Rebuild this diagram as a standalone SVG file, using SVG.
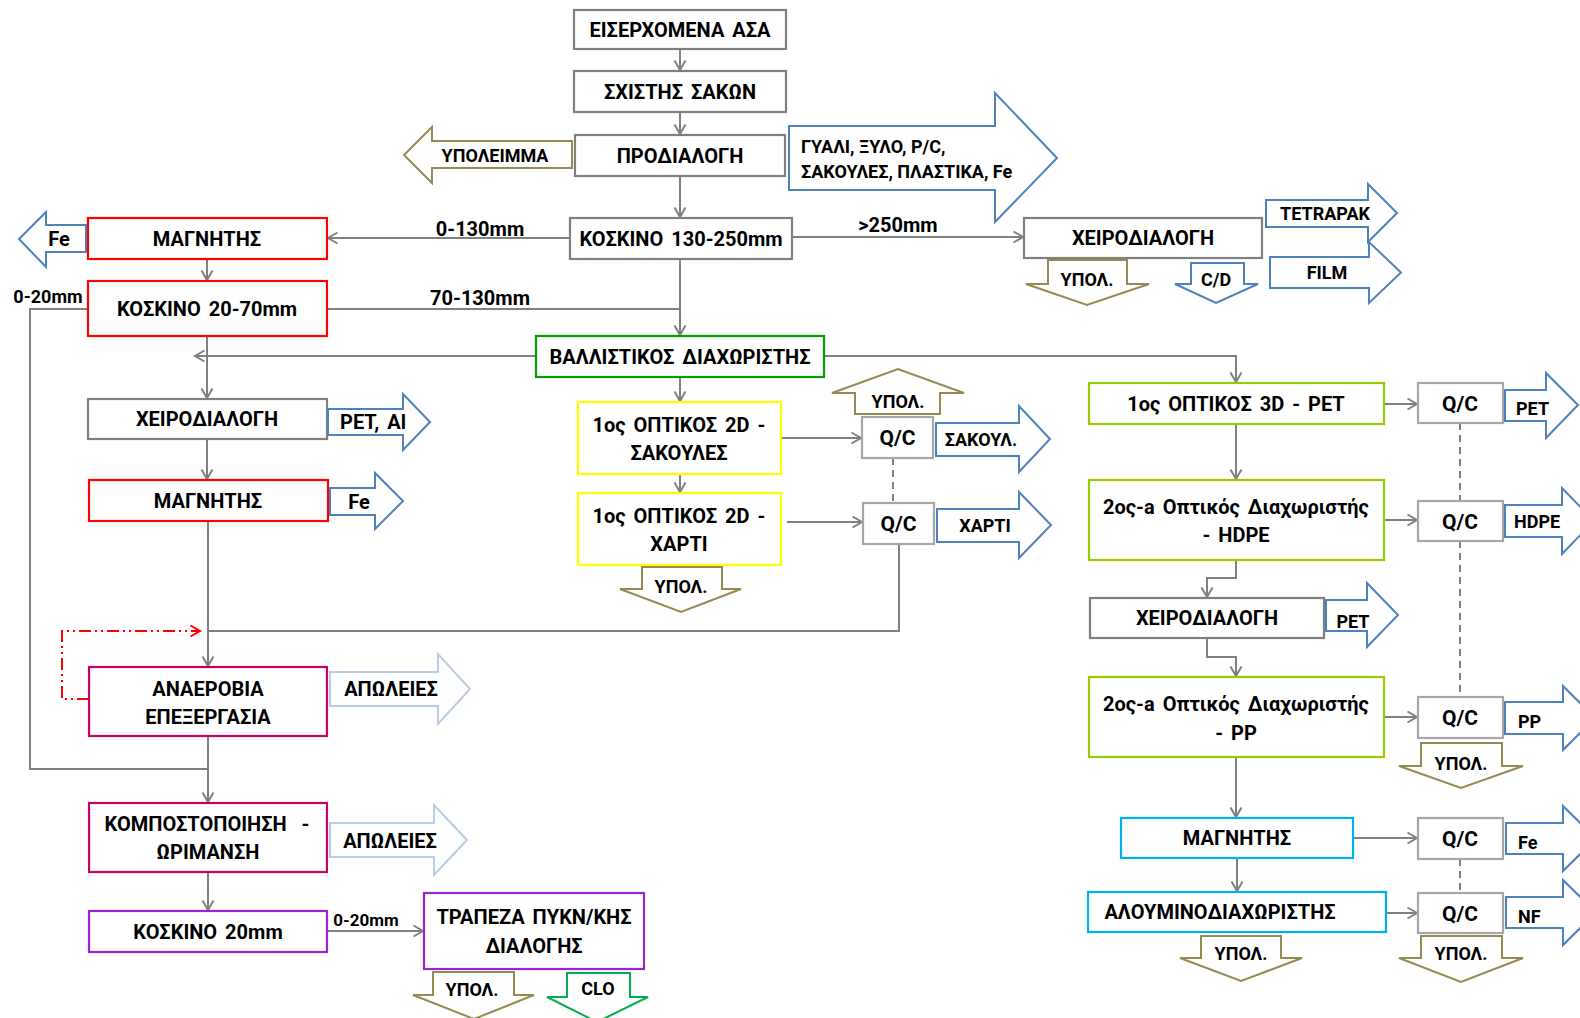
<svg xmlns="http://www.w3.org/2000/svg" width="1580" height="1018" viewBox="0 0 1580 1018">
<defs>
<style>
text{font-family:Roboto,"Noto Sans","DejaVu Sans",sans-serif;font-weight:700;fill:#000;text-anchor:middle;font-size:20px;word-spacing:3px}
.sm{font-size:18px;word-spacing:0}
.qt{font-size:21px}
.st{text-anchor:start}
.md{font-size:17px;word-spacing:0}
.box{fill:#fff;stroke-width:2.2}
.gray{stroke:#808080}
.qc{stroke:#a6a6a6}
.red{stroke:#ff0000}
.grn{stroke:#00a000}
.yel{stroke:#ffff00}
.yg{stroke:#99cc00}
.cy{stroke:#00b0f0}
.mag{stroke:#cc0066}
.pur{stroke:#9d22d6}
.ba{fill:#fff;stroke:#4f81bd;stroke-width:2}
.la{fill:#fff;stroke:#b9cde5;stroke-width:2}
.ol{fill:#fff;stroke:#948a54;stroke-width:2}
.ga{fill:#fff;stroke:#00b050;stroke-width:2}
.c{fill:none;stroke:#808080;stroke-width:2}
.ca{marker-end:url(#ah)}
.dash{stroke-dasharray:7 5}
.fb{fill:none;stroke:#ff0000;stroke-width:2;stroke-dasharray:12 4 2 4 2 4;marker-end:url(#ahr)}
</style>
<marker id="ah" viewBox="0 0 10 12" refX="9.5" refY="6" markerWidth="10" markerHeight="12" markerUnits="userSpaceOnUse" orient="auto" overflow="visible">
<path d="M0,0.5 L9.5,6 L0,11.5" fill="none" stroke="#808080" stroke-width="2"/>
</marker>
<marker id="ahr" viewBox="0 0 10 12" refX="9.5" refY="6" markerWidth="10" markerHeight="12" markerUnits="userSpaceOnUse" orient="auto" overflow="visible">
<path d="M0,0.5 L9.5,6 L0,11.5" fill="none" stroke="#ff0000" stroke-width="2"/>
</marker>
</defs>
<rect width="1580" height="1018" fill="#fff"/>

<!-- connectors -->
<g id="connectors">
<path class="c ca" d="M680,49V70"/>
<path class="c ca" d="M680,112V134"/>
<path class="c ca" d="M680,176V217"/>
<path class="c ca" d="M680,259V335"/>
<path class="c ca" d="M570,238H328"/>
<path class="c ca" d="M792,237H1023"/>
<path class="c ca" d="M207,259V280"/>
<path class="c" d="M327,309H680"/>
<path class="c" d="M88,309H30V769H208"/>
<path class="c ca" d="M536,356H195"/>
<path class="c ca" d="M824,356H1236V382"/>
<path class="c ca" d="M207,336V398"/>
<path class="c ca" d="M680,377V401"/>
<path class="c ca" d="M680,474V492"/>
<path class="c ca" d="M781,438H861"/>
<path class="c ca" d="M787,522H862"/>
<path class="c dash" d="M893,458V503"/>
<path class="c" d="M899,544V631H208"/>
<path class="c ca" d="M207,439V479"/>
<path class="c ca" d="M208,521V666"/>
<path class="fb" d="M89,699H62V631H200"/>
<path class="c ca" d="M208,736V802"/>
<path class="c ca" d="M208,872V910"/>
<path class="c ca" d="M327,931H423"/>
<path class="c ca" d="M1383,404H1417"/>
<path class="c ca" d="M1236,424V479"/>
<path class="c ca" d="M1384,520H1417"/>
<path class="c ca" d="M1236,560V578H1207V597"/>
<path class="c ca" d="M1207,638V657H1236V676"/>
<path class="c ca" d="M1384,717H1417"/>
<path class="c ca" d="M1236,757V817"/>
<path class="c ca" d="M1353,838H1417"/>
<path class="c ca" d="M1237,858V891"/>
<path class="c ca" d="M1386,913H1417"/>
<path class="c dash" d="M1460,423V501M1460,541V697M1460,859V893"/>
<text x="480" y="236">0-130mm</text>
<text x="898" y="232">&gt;250mm</text>
<text x="480" y="305">70-130mm</text>
<text class="sm" x="48" y="303">0-20mm</text>
<text class="md" x="366" y="926">0-20mm</text>
</g>

<!-- main line -->
<g id="incoming"><rect class="box gray" x="574" y="10" width="212" height="39"/><text x="680" y="37">ΕΙΣΕΡΧΟΜΕΝΑ ΑΣΑ</text></g>
<g id="bag-opener"><rect class="box gray" x="574" y="71" width="212" height="41"/><text x="680" y="99">ΣΧΙΣΤΗΣ ΣΑΚΩΝ</text></g>
<g id="presort"><rect class="box gray" x="575" y="135" width="210" height="41"/><text x="680" y="163">ΠΡΟΔΙΑΛΟΓΗ</text></g>
<g id="presort-residue"><polygon class="ol" points="572,141 432,141 432,127 404,155 432,183 432,168 572,168"/><text class="sm" x="495" y="161.5">ΥΠΟΛΕΙΜΜΑ</text></g>
<g id="presort-out"><polygon class="ba" points="789,126 995,126 995,93 1057,158 995,222 995,190 789,190"/><text class="sm st" x="801" y="152.5">ΓΥΑΛΙ, ΞΥΛΟ, P/C,</text><text class="sm st" x="801" y="177.5">ΣΑΚΟΥΛΕΣ, ΠΛΑΣΤΙΚΑ, Fe</text></g>
<g id="screen-130-250"><rect class="box gray" x="570" y="218" width="222" height="41"/><text x="681" y="245.5">ΚΟΣΚΙΝΟ 130-250mm</text></g>

<!-- oversize handpicking -->
<g id="handsort-top"><rect class="box gray" x="1024" y="218" width="238" height="40"/><text x="1143" y="245">ΧΕΙΡΟΔΙΑΛΟΓΗ</text></g>
<g id="handsort-top-residue"><polygon class="ol" points="1048,260 1127,260 1127,284 1149,284 1087,305 1026,284 1048,284"/><text class="sm" x="1087" y="286">ΥΠΟΛ.</text></g>
<g id="handsort-top-cd"><polygon class="ba" points="1191,263 1244,263 1244,284 1258,284 1216,303 1175,284 1191,284"/><text class="sm" x="1216" y="286">C/D</text></g>
<g id="tetrapak"><polygon class="ba" points="1266,200 1368,200 1368,184 1397,213 1368,242 1368,227 1266,227"/><text class="sm" x="1325" y="219.5">TETRAPAK</text></g>
<g id="film"><polygon class="ba" points="1270,257 1369,257 1369,242 1401,272.5 1369,303 1369,288 1270,288"/><text class="sm" x="1327" y="278.5">FILM</text></g>

<!-- fine fraction line -->
<g id="magnet-1"><rect class="box red" x="88" y="218" width="239" height="41"/><text x="207" y="245.5">ΜΑΓΝΗΤΗΣ</text></g>
<g id="magnet-1-fe"><polygon class="ba" points="86,225 46,225 46,212 19,239 46,267 46,252 86,252"/><text x="59" y="246">Fe</text></g>
<g id="screen-20-70"><rect class="box red" x="88" y="281" width="239" height="55"/><text x="207" y="315.5">ΚΟΣΚΙΝΟ 20-70mm</text></g>
<g id="handsort-left"><rect class="box gray" x="88" y="399" width="239" height="40"/><text x="207" y="426">ΧΕΙΡΟΔΙΑΛΟΓΗ</text></g>
<g id="handsort-left-out"><polygon class="ba" points="328,409 403,409 403,394 430,422 403,450 403,435 328,435"/><text x="373" y="429">PET, Al</text></g>
<g id="magnet-2"><rect class="box red" x="89" y="480" width="239" height="41"/><text x="208" y="507.5">ΜΑΓΝΗΤΗΣ</text></g>
<g id="magnet-2-fe"><polygon class="ba" points="330,488 375,488 375,473 403,501 375,529 375,515 330,515"/><text x="359" y="509">Fe</text></g>
<g id="anaerobic"><rect class="box mag" x="89" y="667" width="238" height="69"/><text x="208" y="695.5">ΑΝΑΕΡΟΒΙΑ</text><text x="208" y="723.5">ΕΠΕΞΕΡΓΑΣΙΑ</text></g>
<g id="anaerobic-loss"><polygon class="la" points="330,672 438,672 438,654 470,689 438,724 438,706 330,706"/><text x="391" y="696">ΑΠΩΛΕΙΕΣ</text></g>
<g id="composting"><rect class="box mag" x="89" y="803" width="238" height="69"/><text x="207" y="831" style="word-spacing:10px">ΚΟΜΠΟΣΤΟΠΟΙΗΣΗ -</text><text x="208" y="859">ΩΡΙΜΑΝΣΗ</text></g>
<g id="composting-loss"><polygon class="la" points="330,823 434,823 434,805 467,840 434,875 434,857 330,857"/><text x="390" y="848">ΑΠΩΛΕΙΕΣ</text></g>
<g id="screen-20"><rect class="box pur" x="89" y="911" width="238" height="41"/><text x="208" y="938.5">ΚΟΣΚΙΝΟ 20mm</text></g>
<g id="density-table"><rect class="box pur" x="424" y="893" width="220" height="76"/><text x="534" y="924">ΤΡΑΠΕΖΑ ΠΥΚΝ/ΚΗΣ</text><text x="534" y="953">ΔΙΑΛΟΓΗΣ</text></g>
<g id="density-residue"><polygon class="ol" points="433,972 514,972 514,995 534,995 474,1019 413,995 433,995"/><text class="sm" x="472" y="996">ΥΠΟΛ.</text></g>
<g id="density-clo"><polygon class="ga" points="567,973 630,973 630,997 648,997 597,1022 547,997 567,997"/><text class="sm" x="598" y="995">CLO</text></g>

<!-- ballistic separator and 2D optical sorters -->
<g id="ballistic"><rect class="box grn" x="536" y="336" width="288" height="41"/><text x="680" y="363.5">ΒΑΛΛΙΣΤΙΚΟΣ ΔΙΑΧΩΡΙΣΤΗΣ</text></g>
<g id="optical-2d-bags"><rect class="box yel" x="578" y="402" width="203" height="72"/><text x="679" y="431.5">1ος ΟΠΤΙΚΟΣ 2D -</text><text x="679" y="459.5">ΣΑΚΟΥΛΕΣ</text></g>
<g id="optical-2d-paper"><rect class="box yel" x="578" y="493" width="203" height="72"/><text x="679" y="523">1ος ΟΠΤΙΚΟΣ 2D -</text><text x="679" y="551">ΧΑΡΤΙ</text></g>
<g id="optical-2d-residue"><polygon class="ol" points="642,567 722,567 722,589 741,589 681,612 620,589 642,589"/><text class="sm" x="681" y="593">ΥΠΟΛ.</text></g>
<g id="qc-bags"><rect class="box qc" x="862" y="417" width="71" height="41"/><text class="qt" x="897.5" y="445">Q/C</text></g>
<g id="qc-bags-residue"><polygon class="ol" points="855,414 855,393 832,393 898,369 964,393 940,393 940,414"/><text class="sm" x="898" y="408">ΥΠΟΛ.</text></g>
<g id="qc-bags-out"><polygon class="ba" points="936,423 1019,423 1019,406 1050,439 1019,472 1019,456 936,456"/><text class="sm" x="981" y="445.5">ΣΑΚΟΥΛ.</text></g>
<g id="qc-paper"><rect class="box qc" x="863" y="503" width="71" height="41"/><text class="qt" x="898.5" y="531">Q/C</text></g>
<g id="qc-paper-out"><polygon class="ba" points="937,509 1019,509 1019,492 1051,525 1019,558 1019,542 937,542"/><text class="sm" x="985" y="532">ΧΑΡΤΙ</text></g>

<!-- plastics and metals line -->
<g id="optical-3d-pet"><rect class="box yg" x="1089" y="383" width="295" height="41"/><text x="1236" y="410.5">1ος ΟΠΤΙΚΟΣ 3D - PET</text></g>
<g id="qc-pet"><rect class="box qc" x="1418" y="383" width="85" height="40"/><text class="qt" x="1460" y="410.5">Q/C</text></g>
<g id="qc-pet-out"><polygon class="ba" points="1505,390 1546,390 1546,373 1578,405 1546,438 1546,421 1505,421"/><text class="sm st" x="1516" y="415">PET</text></g>
<g id="optical-hdpe"><rect class="box yg" x="1089" y="480" width="295" height="80"/><text x="1236" y="514">2ος-a Οπτικός Διαχωριστής</text><text x="1236" y="542">- HDPE</text></g>
<g id="qc-hdpe"><rect class="box qc" x="1418" y="501" width="85" height="40"/><text class="qt" x="1460" y="528.5">Q/C</text></g>
<g id="qc-hdpe-out"><polygon class="ba" points="1505,505 1562,505 1562,488 1594,521 1562,554 1562,537 1505,537"/><text class="sm st" x="1514" y="528">HDPE</text></g>
<g id="handsort-right"><rect class="box gray" x="1090" y="598" width="234" height="40"/><text x="1207" y="625">ΧΕΙΡΟΔΙΑΛΟΓΗ</text></g>
<g id="handsort-right-pet"><polygon class="ba" points="1326,600 1367,600 1367,583 1398,615 1367,647 1367,631 1326,631"/><text class="sm" x="1353" y="628">PET</text></g>
<g id="optical-pp"><rect class="box yg" x="1089" y="677" width="295" height="80"/><text x="1236" y="711">2ος-a Οπτικός Διαχωριστής</text><text x="1236" y="740">- PP</text></g>
<g id="qc-pp"><rect class="box qc" x="1418" y="697" width="85" height="41"/><text class="qt" x="1460" y="725">Q/C</text></g>
<g id="qc-pp-out"><polygon class="ba" points="1505,702 1563,702 1563,686 1595,718 1563,750 1563,734 1505,734"/><text class="sm st" x="1518" y="728">PP</text></g>
<g id="qc-pp-residue"><polygon class="ol" points="1421,743 1502,743 1502,766 1523,766 1461,788 1399,766 1421,766"/><text class="sm" x="1461" y="770">ΥΠΟΛ.</text></g>
<g id="magnet-3"><rect class="box cy" x="1121" y="818" width="232" height="40"/><text x="1237" y="845">ΜΑΓΝΗΤΗΣ</text></g>
<g id="qc-fe"><rect class="box qc" x="1418" y="818" width="85" height="41"/><text class="qt" x="1460" y="846">Q/C</text></g>
<g id="qc-fe-out"><polygon class="ba" points="1506,823 1563,823 1563,806 1596,838.5 1563,871 1563,854 1506,854"/><text class="sm st" x="1518" y="849">Fe</text></g>
<g id="eddy-current"><rect class="box cy" x="1088" y="892" width="298" height="40"/><text x="1220" y="919">ΑΛΟΥΜΙΝΟΔΙΑΧΩΡΙΣΤΗΣ</text></g>
<g id="eddy-current-residue"><polygon class="ol" points="1201,936 1281,936 1281,958 1302,958 1241,981 1180,958 1201,958"/><text class="sm" x="1241" y="960">ΥΠΟΛ.</text></g>
<g id="qc-nf"><rect class="box qc" x="1418" y="893" width="85" height="40"/><text class="qt" x="1460" y="920.5">Q/C</text></g>
<g id="qc-nf-out"><polygon class="ba" points="1506,897 1563,897 1563,880 1596,912.5 1563,945 1563,928 1506,928"/><text class="sm st" x="1518" y="923">NF</text></g>
<g id="qc-nf-residue"><polygon class="ol" points="1421,936 1502,936 1502,958 1523,958 1461,982 1399,958 1421,958"/><text class="sm" x="1461" y="960">ΥΠΟΛ.</text></g>
</svg>
